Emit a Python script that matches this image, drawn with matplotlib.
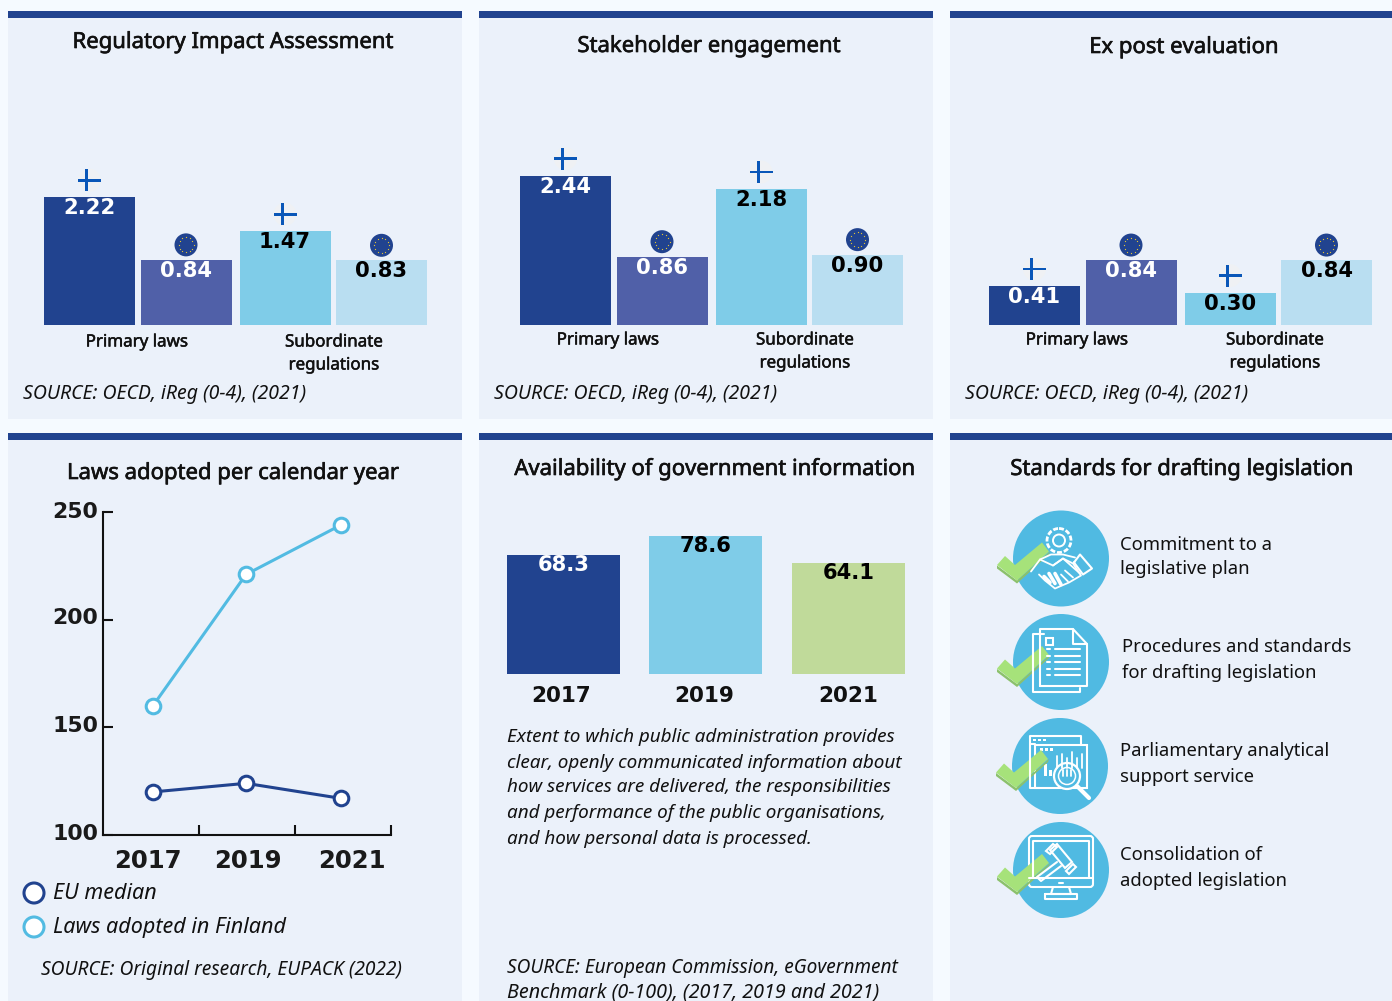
import matplotlib
matplotlib.use('Agg')
import math
import matplotlib.pyplot as plt
import matplotlib.patheffects as pe
from matplotlib.patches import Rectangle, Circle, Polygon, FancyBboxPatch

W, H = 1392, 1001

# data
ria_values = [2.22, 0.84, 1.47, 0.83]
stakeholder_values = [2.44, 0.86, 2.18, 0.90]
expost_values = [0.41, 0.84, 0.30, 0.84]
bar_owners = ['fi', 'eu', 'fi', 'eu']
years = ['2017', '2019', '2021']
finland_laws = [160, 221, 244]
eu_median_laws = [120, 124, 117]
gov_info = [68.3, 78.6, 64.1]
standards = ['Commitment to a\nlegislative plan',
             'Procedures and standards\nfor drafting legislation',
             'Parliamentary analytical\nsupport service',
             'Consolidation of\nadopted legislation']

NAVY = '#21438F'
BLUE2 = '#5060A8'
SKY = '#7FCCE8'
PALE = '#B9DEF1'
LIME = '#C0DA9A'
CIRC = '#50BAE2'
BG = '#EBF1FA'
TXT = '#111111'
SANS = 'Noto Sans'
NUM = 'DejaVu Sans'

fig = plt.figure(figsize=(W / 100, H / 100), dpi=100, facecolor='#F5FAFF')


def px_axes(z):
    a = fig.add_axes([0, 0, 1, 1], zorder=z)
    a.set_xlim(0, W)
    a.set_ylim(H, 0)
    a.axis('off')
    return a


back = px_axes(0)
top = px_axes(5)


def sub_axes(x0, y0, x1, y1):
    # axes from image pixel box
    a = fig.add_axes([x0 / W, 1 - y1 / H, (x1 - x0) / W, (y1 - y0) / H], zorder=2)
    a.patch.set_alpha(0)
    return a


def txt(x, y, s, size=12.5, ha='left', weight='normal', style='normal', color=TXT, family=SANS, **kw):
    return top.text(x, y + 1.5, s, fontsize=size, ha=ha, va='center', fontweight=weight, fontstyle=style,
                    color=color, family=family, **kw)


def heavy(x, y, s, size, width=0.45):
    # Noto Sans has only one weight here, so thicken it with a thin stroke
    t = txt(x, y, s, size=size, ha='center')
    t.set_path_effects([pe.withStroke(linewidth=width, foreground=TXT)])


# panels
for x0, x1 in [(8, 462), (479, 933), (950, 1392)]:
    for y0, y1 in [(11, 419), (433, 1001)]:
        back.add_patch(Rectangle((x0, y0), x1 - x0, y1 - y0, fc=BG, ec='none'))
        back.add_patch(Rectangle((x0, y0), x1 - x0, 6.5, fc=NAVY, ec='none'))

heavy(233, 41, 'Regulatory Impact Assessment', 15.9)
heavy(709, 45, 'Stakeholder engagement', 15.9)
heavy(1184, 46, 'Ex post evaluation', 15.9)
heavy(233, 472, 'Laws adopted per calendar year', 15.9)
heavy(715, 468, 'Availability of government information', 15.9)
heavy(1182, 468, 'Standards for drafting legislation', 15.9)


def fi_flag(cx, cy):
    top.add_patch(Circle((cx, cy), 11.5, fc='#EFF1F4', ec='none'))
    top.add_patch(Rectangle((cx - 11.5, cy - 1.4), 23, 2.8, fc='#0A57B8', ec='none'))
    top.add_patch(Rectangle((cx - 4.2, cy - 11), 2.8, 22, fc='#0A57B8', ec='none'))


def eu_flag(cx, cy):
    top.add_patch(Circle((cx, cy), 11.5, fc=NAVY, ec='none'))
    for i in range(12):
        t = i * math.pi / 6
        top.plot(cx + 7.5 * math.cos(t), cy + 7.5 * math.sin(t), 'o', ms=0.9, color='#E8C832', mew=0)


bar_pos = [0, 96.5, 195.5, 292]
bar_cols = [NAVY, BLUE2, SKY, PALE]
lab_cols = ['white', 'white', 'black', 'black']


def ireg_panel(x0, vals, slope, offset, cat1, cat2, cat_y, src_x):
    # bars stand on a cut baseline, as in the original
    ymin = -offset / slope
    a = sub_axes(x0, 60, x0 + 383, 325)
    a.bar(bar_pos, [v - ymin for v in vals], bottom=ymin, width=91, color=bar_cols)
    a.set_xlim(-45.5, 337.5)
    a.set_ylim(ymin, ymin + 265 / slope)
    a.axis('off')
    for p, v, c, own in zip(bar_pos, vals, lab_cols, bar_owners):
        a.annotate(f'{v:.2f}', (p, v), xytext=(0, -11), textcoords='offset pixels', ha='center', va='center',
                   fontsize=15.2, fontweight='bold', color=c, family=NUM)
        bx, by = a.transData.transform((p, v))
        if own == 'fi':
            fi_flag(x0 + 45.5 + p, H - by - 17)
        else:
            eu_flag(x0 + 45.5 + p, H - by - 15)
    heavy(cat1, cat_y, 'Primary laws', 12.2, 0.35)
    heavy(cat2, cat_y, 'Subordinate', 12.2, 0.35)
    heavy(cat2, cat_y + 23, 'regulations', 12.2, 0.35)
    txt(src_x, 392, 'SOURCE: OECD, iReg (0-4), (2021)', size=14, style='italic')


ireg_panel(44, ria_values, 45.4, 27, 137, 334, 341, 23)
ireg_panel(520, stakeholder_values, 51.3, 24.2, 608, 805, 339, 494)
ireg_panel(989, expost_values, 60.4, 14.2, 1077, 1275, 339, 965)

# line chart
ax = sub_axes(103, 512, 391, 835)
xs = [0.52, 1.49, 2.48]
ax.plot(xs, finland_laws, '-o', color='#52BBE2', lw=2.2, ms=10.5, mfc='white', mew=2.2, clip_on=False)
ax.plot(xs, eu_median_laws, '-o', color=NAVY, lw=2.2, ms=10.5, mfc='white', mew=2.2, clip_on=False)
ax.set_xlim(0, 3)
ax.set_ylim(100, 250)
ax.set_yticks([100, 150, 200, 250])
ax.set_xticks([1, 2, 3])
ax.set_xticklabels([])
ax.tick_params(direction='in', length=7, width=1.5, color='#111111')
ax.tick_params(axis='y', labelleft=False)
for s in ['top', 'right']:
    ax.spines[s].set_visible(False)
for s in ['left', 'bottom']:
    ax.spines[s].set_linewidth(1.5)
    ax.spines[s].set_color('#111111')
for t, y in zip(['100', '150', '200', '250'], [832, 725, 617, 510]):
    txt(98, y, t, size=15.8, ha='right', weight='bold', family=NUM, color='#1A1A1A')
for t, x in zip(years, [148, 248, 352]):
    txt(x, 859, t, size=17.6, ha='center', weight='bold', family=NUM, color='#1A1A1A')
top.add_patch(Circle((34, 893), 10, fc='white', ec=NAVY, lw=2.2))
top.add_patch(Circle((34, 927), 10, fc='white', ec='#52BBE2', lw=2.2))
txt(53, 892, 'EU median', size=15.5, style='italic')
txt(53, 926, 'Laws adopted in Finland', size=15.5, style='italic')
txt(41, 968, 'SOURCE: Original research, EUPACK (2022)', size=13.8, style='italic')

# availability bars
ymin5 = 4.3
ax5 = sub_axes(507, 500, 905, 674)
pos5 = [0, 142, 285]
ax5.bar(pos5, [v - ymin5 for v in gov_info], bottom=ymin5, width=113, color=[NAVY, SKY, LIME])
ax5.set_xlim(-56.5, 341.5)
ax5.set_ylim(ymin5, ymin5 + 174 / 1.86)
ax5.axis('off')
for p, v, c in zip(pos5, gov_info, ['white', 'black', 'black']):
    ax5.annotate(f'{v:.1f}', (p, v), xytext=(0, -10), textcoords='offset pixels', ha='center', va='center',
                 fontsize=15.2, fontweight='bold', color=c, family=NUM)
for t, x in zip(years, [561, 704, 848]):
    txt(x, 694, t, size=15.5, ha='center', weight='bold', family=NUM)
para = ['Extent to which public administration provides',
        'clear, openly communicated information about',
        'how services are delivered, the responsibilities',
        'and performance of the public organisations,',
        'and how personal data is processed.']
for line, y in zip(para, [735, 761, 786, 812, 837]):
    txt(507, y, line, size=13.6, style='italic')
txt(507, 966, 'SOURCE: European Commission, eGovernment', size=13.7, style='italic')
txt(507, 991, 'Benchmark (0-100), (2017, 2019 and 2021)', size=14.2, style='italic')


# icons, offsets from circle centre
def ln(cx, cy, pts, lw=1.3):
    top.plot([cx + p[0] for p in pts], [cy + p[1] for p in pts], color='white', lw=lw, solid_capstyle='round')


def box(cx, cy, x, y, w, h, lw=1.3, fc='none'):
    top.add_patch(Rectangle((cx + x, cy + y), w, h, fc=fc, ec='white', lw=lw))


def icon_hands(cx, cy):
    top.add_patch(Circle((cx - 2, cy - 18), 6, fc='none', ec='white', lw=1.4))
    top.add_patch(Circle((cx - 2, cy - 18), 12, fc='none', ec='white', lw=2, ls=(0, (1.8, 0.7))))
    ln(cx, cy, [(-30, 13), (-21, 1), (-8, 7), (2, 0), (12, 5), (20, 17), (8, 24), (-6, 30), (-16, 22), (-22, 16)])
    ln(cx, cy, [(-21, 1), (-10, -4), (2, -4), (14, -1)])
    ln(cx, cy, [(-8, 7), (2, 0), (19, 15)])
    ln(cx, cy, [(-17, 18), (-11, 24)], 2.6)
    ln(cx, cy, [(-12, 15), (-6, 25)], 2.6)
    ln(cx, cy, [(-6, 15), (0, 26)], 2.6)
    ln(cx, cy, [(4, 12), (12, 19)])
    ln(cx, cy, [(0, 16), (7, 23)])
    ln(cx, cy, [(13, 4), (19, -4), (31, 10), (22, 16), (13, 4)], 1.5)


def icon_doc(cx, cy):
    ln(cx, cy, [(-17, -28), (-28, -28), (-28, 30), (19, 30), (19, 26)], 1.5)
    ln(cx, cy, [(-21, 24), (-21, -33), (12, -33), (26, -18), (26, 24), (-21, 24)], 1.5)
    ln(cx, cy, [(12, -33), (12, -18), (26, -18)], 1.5)
    box(cx, cy, -15, -24, 7, 7, 1.5)
    for y in [-13, -6.5, 0, 6.5, 13]:
        ln(cx, cy, [(-14, y), (-11, y)], 1.5)
        ln(cx, cy, [(-6, y), (19, y)], 1.5)


def icon_data(cx, cy):
    ln(cx, cy, [(-20, 22), (-30, 22), (-30, -30), (21, -30), (21, -21)], 1.5)
    ln(cx, cy, [(-30, -22), (-25, -22)], 1.5)
    box(cx, cy, -25, -21, 52, 43, 1.5)
    for x in [-27, -22, -17]:
        top.add_patch(Rectangle((cx + x, cy - 27.5), 3, 2.5, fc='white', ec='none'))
    for x in [-20, -15, -10]:
        top.add_patch(Rectangle((cx + x, cy - 18), 3, 2.5, fc='white', ec='none'))
    for x, h in zip([-3, 2, 7, 12, 17, 22], [12, 14, 10, 16, 10, 14]):
        ln(cx, cy, [(x, 2), (x, 2 - h)])
    for x, h in zip([-16, -11], [12, 6]):
        top.add_patch(Rectangle((cx + x, cy + 10 - h), 2.5, h, fc='white', ec='none'))
    top.add_patch(Circle((cx + 7, cy + 10), 13, fc=CIRC, ec='white', lw=1.6))
    top.add_patch(Circle((cx + 7, cy + 10), 8.5, fc='none', ec='white', lw=1.1))
    for x in [3, 7, 11]:
        ln(cx, cy, [(x, 4), (x, 10)])
    ln(cx, cy, [(17, 20), (29, 32)], 3)


def icon_gavel(cx, cy):
    top.add_patch(FancyBboxPatch((cx - 32, cy - 34), 64, 51, boxstyle='round,pad=0,rounding_size=3',
                                 fc='none', ec='white', lw=1.5))
    ln(cx, cy, [(-28, 8), (-28, -29), (28, -29), (28, 8)], 1.5)
    ln(cx, cy, [(-32, 8), (32, 8)], 1.5)
    ln(cx, cy, [(-8, 17), (-10, 24), (10, 24), (8, 17)], 1.5)
    ln(cx, cy, [(-16, 24), (16, 24), (16, 29), (-16, 29), (-16, 24)], 1.5)
    ln(cx, cy, [(-2, 13), (2, 13)], 1.5)
    top.add_patch(Polygon([(cx - 11, cy - 20), (cx - 4, cy - 26), (cx + 11, cy - 8), (cx + 4, cy - 2)], fc='none', ec='white', lw=1.5))
    top.add_patch(Polygon([(cx - 15, cy - 19), (cx - 8, cy - 26), (cx - 4, cy - 23), (cx - 11, cy - 16)], fc='none', ec='white', lw=1.5))
    top.add_patch(Polygon([(cx + 5, cy + 1), (cx + 12, cy - 6), (cx + 15, cy - 3), (cx + 8, cy + 4)], fc='none', ec='white', lw=1.5))
    ln(cx, cy, [(-4, -8), (-24, 7), (-20, 11), (0, -4)], 1.5)


def check(cx, cy):
    dark = [(-64, 7), (-44, 22), (-11, -7), (-12, -4), (-44, 25), (-64, 10)]
    top.add_patch(Polygon([(cx + a, cy + b) for a, b in dark], fc='#8CC16C', ec='none'))
    pts = [(-64, 6.5), (-56, -2.5), (-46, 6.5), (-19, -16), (-12, -7), (-44, 22)]
    top.add_patch(Polygon([(cx + a, cy + b) for a, b in pts], fc='#A6E27A', ec='none'))


centres = [(1061, 558.5), (1061, 662), (1060, 766), (1061, 870)]
icons = [icon_hands, icon_doc, icon_data, icon_gavel]
text_x = [1120, 1122, 1120, 1120]
text_y = [(543, 568), (646, 672), (750, 776), (854, 879)]
for (cx, cy), ic, s, tx, ty in zip(centres, icons, standards, text_x, text_y):
    top.add_patch(Circle((cx, cy), 48, fc=CIRC, ec='none'))
    ic(cx, cy)
    check(cx, cy)
    for part, y in zip(s.split('\n'), ty):
        txt(tx, y, part, size=13.3)

fig.savefig('out.png', dpi=100, facecolor=fig.get_facecolor())
